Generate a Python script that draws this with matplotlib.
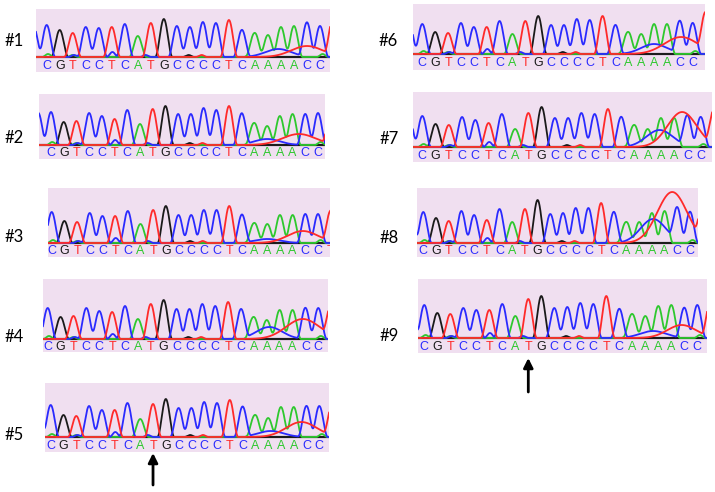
import numpy as np
import matplotlib
matplotlib.use("Agg")
import matplotlib.pyplot as plt

# base calls shown under every trace
sequence = "CGTCCTCATGCCCCTCAAAACC"
labels = ["#1", "#2", "#3", "#4", "#5", "#6", "#7", "#8", "#9"]

# peak heights (px above baseline) read per sample, one per base
h1 = [32, 27, 24, 30, 29, 30, 33, 21, 34, 38, 31, 30, 35, 34, 37, 27, 24, 22, 30, 31, 34, 31]
h2 = [33, 23, 24, 32, 29, 26, 35, 21, 36, 39, 31, 31, 37, 35, 39, 31, 22, 19, 29, 31, 31, 32]
h3 = [31, 22, 21, 30, 27, 27, 32, 19, 33, 37, 28, 28, 33, 33, 37, 28, 20, 19, 28, 28, 29, 29]
h4 = [31, 22, 23, 31, 28, 27, 33, 20, 35, 39, 30, 30, 35, 33, 37, 29, 22, 19, 29, 29, 31, 31]
h5 = [32, 22, 21, 31, 27, 27, 34, 18, 33, 38, 29, 29, 35, 34, 37, 30, 22, 19, 30, 30, 31, 31]
h6 = [30, 22, 21, 31, 27, 27, 33, 20, 33, 38, 29, 29, 35, 34, 38, 29, 22, 20, 30, 30, 32, 31]
h7 = [31, 23, 22, 30, 27, 24, 33, 18, 34, 40, 29, 29, 34, 33, 38, 30, 22, 18, 29, 29, 30, 30]
h8 = [31, 25, 22, 32, 28, 23, 34, 21, 34, 43, 29, 30, 35, 35, 40, 31, 21, 21, 30, 32, 32, 31]
h9 = [33, 25, 24, 30, 28, 28, 34, 22, 39, 42, 30, 31, 35, 34, 42, 29, 24, 22, 32, 33, 30, 33]
heights = [h1, h2, h3, h4, h5, h6, h7, h8, h9]

# peaks cut by the panel edges: C before the first base, T after the last
left_c = [30, 32, 30, 30, 30, 30, 30, 30, 30]
right_t = [36, 30, 30, 30, 30, 36, 34, 30, 34]
next_letter = [False, False, True, False, False, False, False, False, False]

# broad background humps at the end of the read: centre, height, sigma
red_hump = [(20.0, 11, 1.2), (19.5, 11, 1.3), (19.8, 12, 1.2), (19.8, 20, 1.3), (19.6, 15, 1.2),
            (20.1, 17, 1.3), (19.6, 35, 1.1), (19.6, 51, 1.17), (19.8, 13, 1.1)]
blue_hump = [(17.8, 8, 1.0), (17.0, 6, 1.0), (17.0, 4, 1.0), (17.2, 12, 1.0), (17.2, 6, 1.0),
             (18.0, 10, 1.0), (17.9, 17, 1.0), (18.1, 24, 1.0), (17.6, 7, 1.0)]

# small secondary peaks near the baseline, same in every sample
noise_base = ["A", "C", "A", "C", "G", "T", "A", "A", "C"]
noise_pos = [0.1, 5.05, 2.0, 2.1, 10.9, 11.9, 15.6, 21.2, 7.6]
noise_h = [3, 5, 2, 2, 2, 2, 3, 3, 2]

# panel boxes in pixels: left, top, right, bottom, baseline, x of first and last base
layout = [
    (36, 9, 330, 72, 57, 46.7, 320.0),
    (39, 94, 325, 159, 145, 51.0, 318.0),
    (48, 188, 330, 257, 243, 51.7, 318.0),
    (43, 279, 328, 352, 339, 47.7, 318.3),
    (45, 383, 329, 452, 437, 50.7, 319.3),
    (413, 4, 705, 70, 54, 422.3, 692.7),
    (413, 92, 712, 162, 147, 422.3, 700.7),
    (417, 188, 698, 257, 243, 423.3, 690.0),
    (418, 279, 707, 353, 338, 424.3, 697.3),
]
label_pos = [(14, 41), (14, 138), (14, 237), (14, 337), (14, 435),
             (388, 41), (389, 139), (389, 238), (389, 336)]
arrow_panels = {4: (-16, -48), 8: (-20, -54)}

colors = {"A": "#2ec82e", "C": "#2a2aff", "G": "#1a1a1a", "T": "#ff2a2a"}
W, H = 715, 492


def peak(x, c, h, w=0.66):
    d = x - c
    return np.where(np.abs(d) < w, h * np.cos(np.pi * d / (2 * w)) ** 2, 0.0)


fig = plt.figure(figsize=(W / 100, H / 100), dpi=100)
x = np.linspace(-2, 23, 4000)

for i, (l, t, r, b, base, fx, lx) in enumerate(layout):
    ax = fig.add_axes([l / W, 1 - b / H, (r - l) / W, (b - t) / H])
    ax.set_facecolor("#f0dff0")
    step = (lx - fx) / (len(sequence) - 1)
    ax.set_xlim((l - fx) / step, (r - fx) / step)
    ax.set_ylim(-(b - base), base - t)
    for s in ax.spines.values():
        s.set_visible(False)
    ax.set_xticks([])
    ax.set_yticks([])

    tr = {k: np.zeros_like(x) for k in "ACGT"}
    for j, nb in enumerate(sequence):
        tr[nb] += peak(x, j, heights[i][j])
    tr["C"] += peak(x, -1, left_c[i])
    tr["T"] += peak(x, len(sequence), right_t[i])
    for nb, p, hh in zip(noise_base, noise_pos, noise_h):
        tr[nb] += peak(x, p, hh, 0.45)
    c, hh, sg = red_hump[i]
    tr["T"] += hh * np.exp(-0.5 * ((x - c) / sg) ** 2)
    c, hh, sg = blue_hump[i]
    tr["C"] += hh * np.exp(-0.5 * ((x - c) / sg) ** 2)

    ax.axhline(0, color="#333333", lw=1.6, zorder=1)
    for nb in "GACT":
        ax.plot(x, tr[nb], color=colors[nb], lw=1.3, zorder=2)

    letter_y = -(b - base) * 0.58
    calls = sequence + ("T" if next_letter[i] else "")
    for j, nb in enumerate(calls):
        ax.text(j, letter_y, nb, color=colors[nb], fontsize=9, ha="center", va="center",
                family="Liberation Sans", clip_on=True)

    if i in arrow_panels:
        y_tip, y_tail = arrow_panels[i]
        ax.annotate("", xy=(8, y_tip), xytext=(8, y_tail), annotation_clip=False,
                    arrowprops=dict(arrowstyle="-|>", color="black", lw=2,
                                    mutation_scale=14, shrinkA=0, shrinkB=0))

for lab, (px, py) in zip(labels, label_pos):
    fig.text(px / W, 1 - py / H, lab, fontsize=12, family="Lato", ha="center", va="center")

fig.savefig("out.png", dpi=100)
